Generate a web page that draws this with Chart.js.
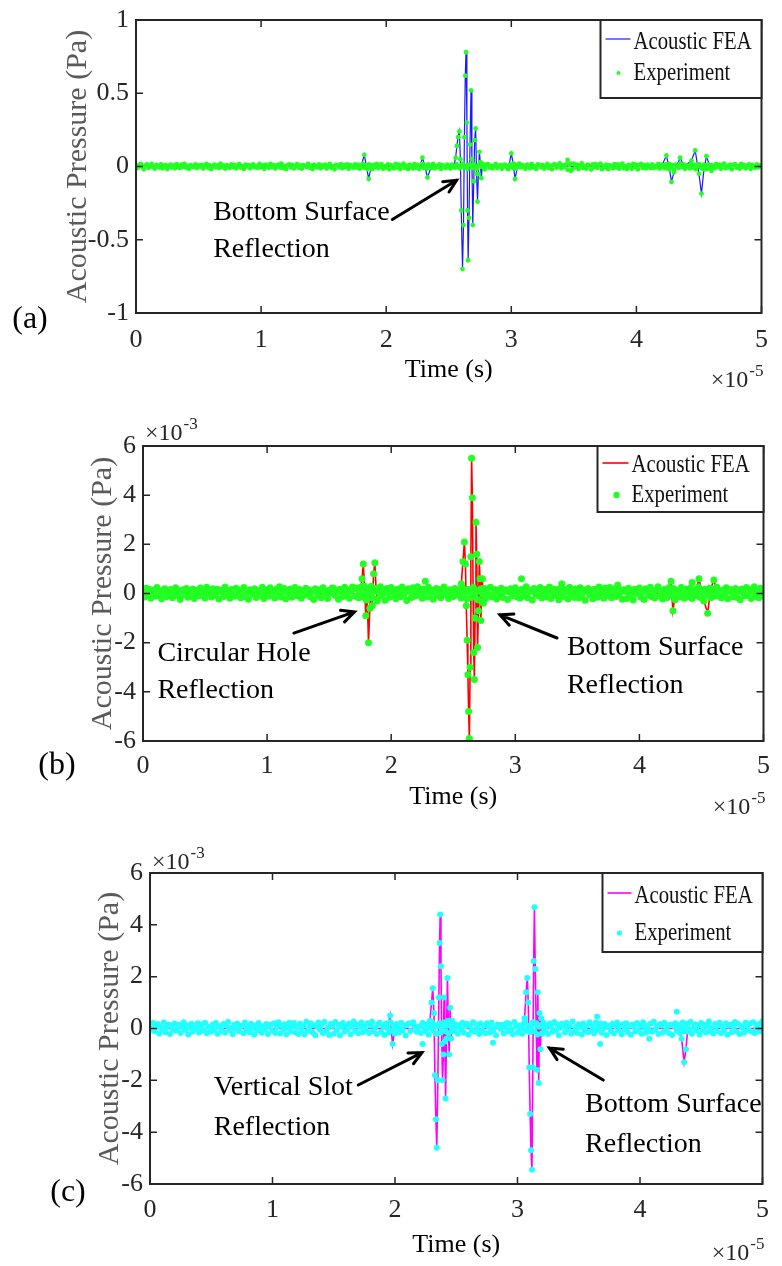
<!DOCTYPE html>
<html>
<head>
<meta charset="utf-8">
<title>Acoustic pressure: FEA vs experiment</title>
<script src="https://cdn.jsdelivr.net/npm/chart.js@4.4.1/dist/chart.umd.min.js"></script>
<style>
    html, body { margin: 0; padding: 0; background: #fff; }
    body { width: 782px; height: 1266px; position: relative; overflow: hidden; }
    .panel { position: absolute; left: 0; width: 782px; }
</style>
</head>
<body>
<div class="panel" style="top:0;height:400px"><canvas id="chartA"></canvas></div>
<div class="panel" style="top:400px;height:425px"><canvas id="chartB"></canvas></div>
<div class="panel" style="top:825px;height:441px"><canvas id="chartC"></canvas></div>
<script>
// Time axis is in units of 1e-5 s, panels (b) and (c) pressure in 1e-3 Pa
const NOISE_STEP = 0.0125;

// Panel (a): experiment baseline noise (Pa), one value per NOISE_STEP
const noiseA = [
    0.004, -0.011, 0.009, 0.017, -0.003, -0.019, 0.007, 0.014, -0.009, 0.001,
    0.018, -0.005, -0.015, 0.011, 0.003, -0.007, 0.015, -0.013, 0.005, 0.009,
    -0.017, 0.002, 0.013, -0.006, 0.008, -0.012, 0.016, 0.000, -0.010, 0.012,
    -0.002, 0.018, -0.008, 0.006, -0.016, 0.010, 0.001, -0.004, 0.015, -0.011,
    0.007, -0.001, 0.011, -0.014, 0.004, 0.017, -0.007, 0.009, -0.018, 0.003,
    0.013, -0.005, 0.008, -0.011, 0.019, -0.003, 0.005, -0.015, 0.010, 0.000,
    -0.009, 0.014, -0.002, 0.011, -0.013, 0.006, 0.016, -0.008, 0.003, -0.017,
    0.012, 0.000, 0.009, -0.012, 0.005, 0.015, -0.006, 0.002, -0.010, 0.018,
    -0.004, 0.008, -0.016, 0.013, 0.001, -0.009, 0.017, -0.003, 0.010, -0.014,
    0.005, 0.012, -0.007, 0.019, -0.011, 0.003, -0.018, 0.009, 0.014, -0.005,
    0.011, -0.013, 0.002, 0.016, -0.008, 0.007, -0.015, 0.010, 0.004, -0.002,
    0.018, -0.010, 0.006, -0.017, 0.013, 0.000, -0.006, 0.015, -0.012, 0.008,
    -0.001, 0.012, -0.014, 0.005, 0.017, -0.009, 0.003, -0.019, 0.011, 0.007,
    -0.005, 0.016, -0.012, 0.009, -0.003, 0.014, -0.016, 0.010, 0.002, -0.008,
    0.015, -0.007, 0.013, -0.015, 0.005, 0.018, -0.009, 0.002, -0.017, 0.014,
    0.008, -0.018, 0.011, -0.004, 0.017, -0.012, 0.006, 0.016, -0.016, 0.003,
    -0.008, 0.015, -0.019, 0.010, 0.001, -0.013, 0.018, -0.005, 0.012, -0.017,
    0.007, 0.019, -0.010, 0.004, -0.018, 0.013, -0.001, -0.014, 0.016, -0.007,
    0.011, -0.017, 0.005, 0.018, -0.011, 0.008, -0.015, 0.014, 0.002, -0.009,
    0.017, -0.013, 0.006, -0.004, 0.015, -0.017, 0.009, 0.003, -0.011, 0.013,
    0.006, -0.014, 0.012, 0.003, -0.008, 0.016, -0.002, -0.012, 0.010, 0.019,
    -0.006, 0.004, -0.017, 0.013, 0.008, -0.010, 0.015, 0.001, -0.015, 0.009,
    0.014, -0.003, 0.007, -0.019, 0.011, 0.016, -0.008, 0.005, -0.013, 0.002,
    0.017, -0.011, 0.004, 0.010, -0.016, 0.007, 0.013, -0.005, -0.018, 0.012,
    0.001, -0.009, 0.016, -0.014, 0.008, 0.019, -0.006, 0.011, -0.002, -0.016,
    0.013, 0.005, -0.012, 0.018, -0.007, 0.003, -0.017, 0.014, 0.009, -0.004,
    0.010, -0.015, 0.002, 0.017, -0.010, 0.006, -0.019, 0.012, 0.015, -0.008,
    0.004, 0.021, -0.013, 0.008, -0.003, 0.015, -0.022, 0.011, 0.020, -0.018,
    0.020, -0.006, 0.012, -0.017, 0.007, 0.021, -0.011, 0.004, -0.015, 0.013,
    0.006, -0.021, 0.014, -0.002, 0.016, -0.010, 0.008, 0.019, -0.018, 0.005,
    -0.005, 0.013, -0.018, 0.008, 0.003, -0.011, 0.016, -0.007, 0.014, -0.015,
    0.009, 0.019, -0.012, 0.002, -0.017, 0.011, 0.004, -0.016, 0.018, -0.004,
    0.013, -0.020, 0.007, 0.017, -0.009, 0.010, -0.013, 0.012, 0.000, -0.011,
    0.015, -0.010, 0.004, -0.006, 0.018, -0.014, 0.011, 0.005, -0.013, 0.016,
    -0.012, 0.018, -0.006, 0.009, -0.021, 0.012, 0.004, -0.010, 0.020, -0.003,
    0.014, -0.016, 0.008, 0.001, -0.013, 0.019, -0.008, 0.011, -0.019, 0.006,
    0.016, -0.004, -0.014, 0.012, 0.005, -0.018, 0.015, -0.007, 0.010, 0.002,
    -0.011, 0.017, -0.003, 0.013, -0.016, 0.008, 0.020, -0.012, 0.004, -0.006,
    0.012, -0.019, 0.009, 0.016, -0.008, 0.003, -0.015, 0.018, -0.002, 0.010,
    -0.013, 0.006, 0.014, -0.017, 0.011, 0.001, -0.009, 0.015, -0.005, 0.008,
    0.002
];

// Panel (a): a few larger experiment excursions (time, Pa)
const expTimeA = [3.45, 3.475];
const expValA = [0.045, -0.030];

// Panel (a): FEA trace (time, Pa)
const feaTimeA = [
    0, 1.80, 1.825, 1.84, 1.86, 1.88, 2.27, 2.29, 2.31, 2.33,
    2.36, 2.54, 2.555, 2.565, 2.575, 2.585, 2.593, 2.60, 2.61, 2.618,
    2.625, 2.632, 2.638, 2.645, 2.65, 2.655, 2.662, 2.67, 2.678, 2.685,
    2.692, 2.70, 2.707, 2.715, 2.722, 2.73, 2.737, 2.745, 2.752, 2.76,
    2.77, 2.79, 2.98, 3.0, 3.015, 3.03, 3.05, 4.20, 4.24, 4.265,
    4.28, 4.30, 4.35, 4.38, 4.44, 4.47, 4.50, 4.52, 4.54, 4.56,
    4.60, 4.64, 5.0
];
const feaValA = [
    0, 0, 0.08, 0.01, -0.085, 0, 0, 0.06, 0.0, -0.075,
    0, 0, 0.06, 0.14, 0.20, 0.24, 0.05, -0.30, -0.70, -0.40,
    0.20, 0.62, 0.78, 0.30, -0.30, -0.64, -0.35, 0.15, 0.52, 0.05,
    -0.40, -0.10, 0.18, 0.26, -0.05, -0.24, -0.05, 0.10, 0.03, -0.08,
    0.02, 0, 0, 0.09, 0.02, -0.085, 0, 0, 0.075, -0.02,
    -0.105, -0.04, 0.06, 0.0, 0.04, 0.11, -0.05, -0.185, -0.02, 0.07,
    -0.03, 0.01, 0
];

// Panel (b): experiment baseline noise (1e-3 Pa)
const noiseB = [
    0.09, -0.14, 0.21, -0.04, 0.17, -0.19, 0.03, 0.14, -0.11, 0.24,
    -0.07, 0.11, -0.21, 0.05, 0.19, -0.13, 0.08, -0.02, 0.16, -0.17,
    0.01, 0.23, -0.09, 0.12, -0.24, 0.06, 0.15, -0.05, 0.20, -0.15,
    0.10, -0.01, 0.18, -0.20, 0.04, 0.13, -0.10, 0.22, -0.06, 0.07,
    -0.18, 0.25, -0.03, 0.11, -0.14, 0.19, -0.08, 0.02, 0.17, -0.22,
    0.09, 0.14, -0.12, 0.26, -0.05, 0.06, -0.19, 0.16, 0.00, -0.11,
    0.21, -0.07, 0.13, -0.17, 0.08, 0.24, -0.13, 0.04, -0.23, 0.15,
    0.10, -0.04, 0.19, -0.16, 0.03, 0.12, -0.09, 0.25, -0.20, 0.05,
    0.14, -0.11, 0.23, -0.02, 0.09, -0.18, 0.17, -0.06, 0.27, -0.14,
    0.07, 0.20, -0.21, 0.11, -0.03, 0.18, -0.15, 0.05, 0.24, -0.09,
    0.02, 0.16, -0.19, 0.10, -0.07, 0.21, 0.08, 0.14, -0.13, 0.08,
    -0.24, 0.19, 0.04, -0.10, 0.15, -0.17, 0.23, -0.05, 0.09, -0.20,
    0.13, 0.01, 0.22, 0.20, -0.08, 0.11, -0.23, 0.17, 0.06, -0.12,
    0.25, -0.04, 0.14, -0.19, 0.08, 0.26, 0.19, -0.11, 0.22, -0.17,
    0.05, 0.28, -0.14, 0.11, -0.26, 0.18, -0.03, 0.23, -0.18, 0.09,
    0.15, -0.22, 0.07, 0.27, -0.09, 0.13, -0.27, 0.20, 0.01, -0.15,
    0.24, -0.08, 0.12, -0.21, 0.17, 0.03, -0.13, 0.26, -0.06, 0.10,
    -0.28, 0.19, 0.08, -0.16, 0.23, -0.11, 0.14, 0.27, -0.07, 0.11,
    -0.19, 0.18, 0.04, -0.14, 0.25, -0.10, 0.13, -0.23, 0.07, 0.20,
    -0.08, 0.16, -0.17, 0.10, 0.26, -0.05, 0.12, -0.20, 0.15, 0.03,
    -0.12, 0.20, -0.06, 0.15, 0.02, -0.18, 0.22, -0.09, 0.11, -0.21,
    0.17, 0.05, -0.15, 0.24, -0.12, 0.08, -0.25, 0.13, 0.19, -0.03,
    0.06, -0.20, 0.18, -0.07, 0.25, -0.14, 0.01, 0.16, -0.22, 0.12,
    -0.05, 0.21, -0.16, 0.09, 0.14, -0.24, 0.07, 0.19, -0.10, 0.04,
    0.23, -0.13, 0.10, -0.19, 0.16, 0.02, -0.11, 0.27, -0.17, 0.08,
    0.12, -0.26, 0.20, -0.01, 0.15, -0.09, 0.24, -0.18, 0.05, 0.17,
    -0.14, 0.09, 0.26, -0.20, 0.03, 0.18, -0.07, 0.13, -0.25, 0.21,
    0.00, -0.12, 0.16, 0.08, -0.22, 0.25, -0.04, 0.11, -0.16, 0.19,
    0.07, -0.18, 0.23, -0.10, 0.14, -0.27, 0.09, 0.20, -0.06, 0.12,
    -0.21, 0.17, 0.02, -0.15, 0.26, -0.08, 0.13, -0.19, 0.22, 0.04,
    -0.09, 0.24, -0.17, 0.06, 0.18, -0.12, 0.27, -0.03, 0.10, -0.23,
    0.15, 0.08, -0.20, 0.21, -0.05, 0.12, -0.26, 0.17, -0.01, 0.09,
    0.22, -0.15, 0.06, -0.24, 0.19, 0.10, -0.08, 0.25, -0.13, 0.03,
    -0.18, 0.14, 0.27, -0.11, 0.07, -0.22, 0.16, 0.01, -0.16, 0.23,
    0.11, -0.07, 0.20, -0.25, 0.13, 0.05, -0.14, 0.24, -0.02, -0.19,
    0.18, 0.09, -0.12, 0.22, -0.20, 0.06, 0.15, -0.09, 0.26, -0.15,
    0.04, -0.23, 0.17, 0.12, -0.06, 0.21, -0.17, 0.08, -0.11, 0.19,
    0.25, -0.10, 0.03, -0.18, 0.14, -0.04, 0.23, -0.21, 0.10, 0.16,
    -0.13, 0.07, 0.20, -0.16, 0.11, -0.25, 0.18, 0.02, -0.09, 0.24,
    -0.06, 0.15, -0.20, 0.09, 0.27, -0.12, 0.05, -0.17, 0.21, 0.01,
    -0.10
];

// Panel (b): larger experiment excursions (time, 1e-3 Pa)
const expTimeB = [2.275, 3.05, 3.375, 3.825, 4.425];
const expValB = [0.50, 0.60, 0.40, 0.35, 0.45];

// Panel (b): FEA trace (time, 1e-3 Pa)
const feaTimeB = [
    0, 1.75, 1.765, 1.775, 1.785, 1.795, 1.805, 1.817, 1.828, 1.838,
    1.848, 1.858, 1.868, 1.878, 1.888, 1.91, 2.55, 2.565, 2.578, 2.59,
    2.598, 2.605, 2.612, 2.618, 2.624, 2.63, 2.636, 2.642, 2.648, 2.654,
    2.66, 2.665, 2.67, 2.676, 2.683, 2.689, 2.696, 2.703, 2.71, 2.716,
    2.722, 2.728, 2.735, 2.742, 2.75, 2.765, 4.22, 4.255, 4.27, 4.29,
    4.45, 4.48, 4.52, 4.55, 4.575, 4.60, 4.63, 5.0
];
const feaValB = [
    0, 0, 0.6, 1.2, 0.3, -0.9, 0.2, -2.0, -0.6, 0.3,
    -0.5, 0.8, 1.25, 0.2, -0.3, 0, 0, 0.4, 1.3, 2.1,
    1.2, -0.5, -1.9, -3.3, -4.8, -5.9, -3.0, 1.5, 5.5, 3.9,
    0.2, -2.4, -3.5, -1.0, 2.9, 1.6, -2.2, -0.7, 1.3, 0.6,
    -1.1, -0.3, 0.6, -0.4, 0.2, 0, 0, 0.5, -0.7, 0,
    0, 0.6, -0.3, -0.8, 0.2, 0.55, 0, 0
];

// Panel (c): experiment baseline noise (1e-3 Pa)
const noiseC = [
    -0.07, 0.13, 0.21, -0.11, 0.04, 0.17, -0.19, 0.09, -0.02, 0.23,
    -0.14, 0.06, 0.15, -0.21, 0.11, -0.05, 0.19, -0.09, 0.02, 0.14,
    -0.17, 0.08, 0.24, -0.06, 0.12, -0.23, 0.03, 0.18, -0.12, 0.10,
    0.00, 0.20, -0.15, 0.05, 0.16, -0.08, 0.22, -0.18, 0.07, 0.01,
    -0.13, 0.15, -0.04, 0.21, -0.20, 0.09, 0.04, -0.10, 0.17, -0.16,
    0.11, 0.25, -0.07, 0.02, -0.22, 0.14, -0.01, 0.19, -0.11, 0.07,
    0.12, -0.18, 0.23, -0.05, 0.09, -0.14, 0.18, 0.00, -0.24, 0.13,
    -0.08, 0.21, 0.05, -0.16, 0.10, -0.03, 0.17, -0.21, 0.08, 0.15,
    -0.10, 0.20, -0.17, 0.06, 0.24, -0.19, 0.12, -0.04, 0.16, -0.22,
    0.03, 0.22, -0.12, 0.09, 0.21, -0.15, 0.07, -0.21, 0.18, -0.06,
    0.11, -0.23, 0.26, -0.09, 0.05, 0.19, -0.14, 0.13, -0.26, 0.08,
    0.23, -0.05, 0.15, -0.18, 0.25, -0.11, 0.04, -0.25, 0.17, 0.10,
    -0.20, 0.25, -0.08, 0.14, -0.26, 0.07, 0.21, -0.13, 0.11, -0.03,
    0.18, -0.22, 0.09, 0.27, -0.10, 0.15, -0.18, 0.06, 0.23, -0.14,
    0.08, -0.07, 0.20, -0.17, 0.12, 0.26, -0.11, 0.04, -0.21, 0.16,
    0.22, -0.13, 0.10, -0.25, 0.19, 0.02, -0.16, 0.24, -0.09, 0.13,
    -0.19, 0.17, 0.05, -0.14, 0.22, -0.08, 0.11, -0.27, 0.15, 0.20,
    -0.10, 0.18, 0.24, 0.07, -0.12, -0.13, 0.09, -0.17, 0.21, 0.04,
    -0.12, 0.16, -0.24, 0.11, 0.26, -0.07, 0.14, -0.20, 0.08, 0.19,
    -0.15, 0.05, 0.23, -0.11, 0.13, -0.18, 0.20, 0.02, -0.09, 0.17,
    0.06, -0.20, 0.14, -0.03, 0.22, -0.16, 0.09, 0.18, -0.24, 0.11,
    -0.06, 0.24, -0.13, 0.16, 0.01, -0.21, 0.19, -0.08, 0.12, -0.18,
    0.20, 0.07, -0.15, 0.23, -0.10, 0.04, -0.26, 0.15, 0.10, -0.02,
    0.14, -0.19, 0.05, 0.21, -0.12, 0.17, -0.05, -0.22, 0.25, 0.08,
    -0.16, 0.12, 0.02, -0.20, 0.18, 0.26, -0.09, 0.11, -0.14, 0.06,
    0.24, -0.11, 0.16, -0.23, 0.07, 0.13, -0.18, 0.22, -0.04, 0.10,
    -0.21, 0.19, 0.08, -0.13, 0.25, -0.07, 0.15, -0.26, 0.03, 0.18,
    0.09, -0.15, 0.21, -0.02, 0.12, -0.20, 0.27, -0.10, 0.06, -0.17,
    0.16, 0.04, -0.23, 0.19, -0.08, 0.11, -0.14, 0.24, -0.12, 0.07,
    -0.18, 0.22, -0.05, 0.13, 0.20, -0.16, 0.01, 0.17, -0.25, 0.12,
    0.05, -0.11, 0.18, -0.19, 0.09, 0.23, -0.07, 0.14, -0.22, 0.16,
    -0.03, 0.20, -0.14, 0.10, -0.24, 0.15, 0.07, -0.12, 0.21, -0.08,
    0.13, -0.20, 0.24, 0.02, -0.16, 0.11, -0.09, 0.19, -0.13, 0.26,
    -0.04, 0.08, -0.21, 0.17, 0.12, -0.15, 0.22, -0.06, 0.09, -0.18,
    0.15, -0.25, 0.10, 0.20, -0.09, 0.14, -0.17, 0.05, 0.23, -0.11,
    0.07, 0.18, -0.13, 0.25, -0.20, 0.03, 0.16, -0.08, 0.12, -0.23,
    0.21, -0.06, 0.14, -0.15, 0.09, 0.27, -0.12, 0.04, -0.19, 0.17,
    -0.10, 0.13, 0.22, -0.18, 0.06, -0.09, 0.20, -0.24, 0.11, 0.15,
    -0.14, 0.08, 0.25, -0.12, 0.18, -0.21, 0.10, 0.03, -0.16, 0.22,
    0.12, -0.07, 0.19, -0.13, 0.24, -0.17, 0.06, 0.16, -0.11, 0.20,
    0.28
];

// Panel (c): larger experiment excursions (time, 1e-3 Pa)
const expTimeC = [2.225, 2.8, 3.65, 3.675, 4.075, 4.3];
const expValC = [-0.60, -0.55, 0.45, -0.60, -0.40, 0.65];

// Panel (c): FEA trace (time, 1e-3 Pa)
const feaTimeC = [
    0, 1.94, 1.96, 1.98, 2.0, 2.27, 2.285, 2.298, 2.308, 2.318,
    2.326, 2.334, 2.341, 2.35, 2.358, 2.364, 2.369, 2.375, 2.382, 2.388,
    2.395, 2.40, 2.407, 2.413, 2.42, 2.428, 2.435, 2.442, 2.45, 2.458,
    2.466, 2.475, 2.49, 3.038, 3.058, 3.07, 3.08, 3.088, 3.096, 3.103,
    3.11, 3.118, 3.125, 3.132, 3.138, 3.145, 3.152, 3.159, 3.166, 3.173,
    3.18, 3.187, 3.194, 3.203, 3.218, 4.32, 4.34, 4.36, 4.375, 4.39,
    5.0
];
const feaValC = [
    0, 0, 0.5, -0.6, 0, 0, 0.3, 1.0, 1.55, 0.6,
    -1.8, -3.5, -4.6, -2.0, 1.2, 3.3, 4.4, 2.4, -0.6, -2.0,
    -1.0, 1.2, -0.5, -2.7, -0.4, 1.95, 0.3, -1.0, 0.8, -0.4,
    0.3, -0.1, 0, 0, 0.4, 1.4, 1.95, 1.0, -1.5, -3.3,
    -4.7, -5.45, -1.5, 2.6, 4.68, 2.3, 0.2, -1.6, 1.4, -2.1,
    0.6, -0.8, 0.4, -0.2, 0, 0, -0.4, -1.3, -0.8, 0,
    0
];

// Fonts
const SERIF = "'Liberation Serif', 'Times New Roman', serif";
const INK = "#262626";

// Build point lists from the arrays
function pairPoints(times, values) {
    return times.map((t, i) => ({ x: t, y: values[i] }));
}

function experimentPoints(p) {
    const base = p.noise.map((v, i) => ({ x: i * NOISE_STEP, y: v }));
    return base
        .concat(pairPoints(p.extraTimes, p.extraValues))
        .concat(pairPoints(p.times, p.values));
}

// Draw a line of text squeezed horizontally (legend entries look condensed)
function condensedText(ctx, text, x, y, squeeze) {
    ctx.save();
    ctx.translate(x, y);
    ctx.scale(squeeze, 1);
    ctx.fillText(text, 0, 0);
    ctx.restore();
}

// Frame, inward ticks, legend, labels and annotation arrows
const decorPlugin = {
    id: "decor",
    afterDraw(chart, args, o) {
        const { ctx, chartArea: a } = chart;
        const xs = chart.scales.x;
        const ys = chart.scales.y;
        ctx.save();

        // inward tick marks on all four sides
        ctx.strokeStyle = INK;
        ctx.lineWidth = 1.5;
        ctx.beginPath();
        xs.ticks.forEach(t => {
            const px = xs.getPixelForValue(t.value);
            ctx.moveTo(px, a.bottom);
            ctx.lineTo(px, a.bottom - 7);
            ctx.moveTo(px, a.top);
            ctx.lineTo(px, a.top + 7);
        });
        ys.ticks.forEach(t => {
            const py = ys.getPixelForValue(t.value);
            ctx.moveTo(a.left, py);
            ctx.lineTo(a.left + 7, py);
            ctx.moveTo(a.right, py);
            ctx.lineTo(a.right - 7, py);
        });
        ctx.stroke();

        // axes box
        ctx.lineWidth = 2;
        ctx.strokeRect(a.left, a.top, a.right - a.left, a.bottom - a.top);

        // legend
        const lg = o.legend;
        const bx = a.right - lg.w;
        const by = a.top;
        const exp = chart.data.datasets[0];
        const fea = chart.data.datasets[1];
        ctx.fillStyle = "#fff";
        ctx.fillRect(bx, by, lg.w, lg.h);
        ctx.strokeStyle = INK;
        ctx.lineWidth = 2;
        ctx.strokeRect(bx, by, lg.w, lg.h);
        ctx.strokeStyle = fea.borderColor;
        ctx.lineWidth = fea.borderWidth;
        ctx.beginPath();
        ctx.moveTo(bx + 5, by + lg.lineY);
        ctx.lineTo(bx + lg.textX - 3, by + lg.lineY);
        ctx.stroke();
        ctx.fillStyle = exp.pointBackgroundColor;
        ctx.beginPath();
        ctx.arc(bx + lg.dotX, by + lg.row2, lg.dotR, 0, Math.PI * 2);
        ctx.fill();
        ctx.fillStyle = "#111";
        ctx.font = `25px ${SERIF}`;
        ctx.textAlign = "left";
        ctx.textBaseline = "middle";
        condensedText(ctx, fea.label, bx + lg.textX, by + lg.row1, 0.83);
        condensedText(ctx, exp.label, bx + lg.textX, by + lg.row2, 0.83);

        // text notes
        ctx.fillStyle = "#000";
        ctx.font = `28px ${SERIF}`;
        ctx.textBaseline = "alphabetic";
        o.notes.forEach(n => {
            const px = xs.getPixelForValue(n.x);
            const py = ys.getPixelForValue(n.y);
            n.lines.forEach((s, i) => ctx.fillText(s, px, py + i * n.gap));
        });

        // arrows
        ctx.strokeStyle = "#000";
        ctx.lineWidth = 3;
        ctx.lineCap = "round";
        o.arrows.forEach(ar => {
            const x0 = xs.getPixelForValue(ar.from[0]);
            const y0 = ys.getPixelForValue(ar.from[1]);
            const x1 = xs.getPixelForValue(ar.to[0]);
            const y1 = ys.getPixelForValue(ar.to[1]);
            const ang = Math.atan2(y1 - y0, x1 - x0);
            const head = 14;
            ctx.beginPath();
            ctx.moveTo(x0, y0);
            ctx.lineTo(x1, y1);
            ctx.moveTo(x1 - head * Math.cos(ang - 0.45), y1 - head * Math.sin(ang - 0.45));
            ctx.lineTo(x1, y1);
            ctx.lineTo(x1 - head * Math.cos(ang + 0.45), y1 - head * Math.sin(ang + 0.45));
            ctx.stroke();
        });

        // exponent labels
        ctx.fillStyle = INK;
        ctx.textAlign = "left";
        const drawExp = (power, x, y) => {
            ctx.font = `24px ${SERIF}`;
            ctx.fillText("\u00d710", x, y);
            const w = ctx.measureText("\u00d710").width;
            ctx.font = `17px ${SERIF}`;
            ctx.fillText(power, x + w + 1, y - 11);
        };
        ctx.font = `24px ${SERIF}`;
        const baseW = ctx.measureText("\u00d710").width;
        ctx.font = `17px ${SERIF}`;
        const supW = ctx.measureText("-5").width;
        drawExp("-5", a.right + 2 - baseW - supW - 1, a.bottom + o.xExpDrop);
        if (o.yExp) {
            drawExp(o.yExp, a.left + 2, a.top - o.yExpLift);
        }

        // panel letter
        ctx.fillStyle = "#000";
        ctx.font = `32px ${SERIF}`;
        ctx.textAlign = "center";
        ctx.textBaseline = "middle";
        ctx.fillText(o.tag.text, o.tag.x, o.tag.y);

        ctx.restore();
    }
};

// Create one panel
function makePanel(id, p) {
    const ctx = document.getElementById(id).getContext("2d");
    return new Chart(ctx, {
        type: "scatter",
        data: {
            datasets: [{
                label: "Experiment",
                data: experimentPoints(p),
                pointRadius: p.dotR,
                pointHoverRadius: p.dotR,
                pointBackgroundColor: p.dotColor,
                pointBorderWidth: 0,
                order: 0
            }, {
                label: "Acoustic FEA",
                data: pairPoints(p.times, p.values),
                showLine: true,
                tension: 0,
                pointRadius: 0,
                borderColor: p.lineColor,
                borderWidth: p.lineWidth,
                order: 1
            }]
        },
        options: {
            responsive: true,
            maintainAspectRatio: false,
            devicePixelRatio: 1,
            animation: false,
            events: [],
            layout: { padding: p.padding },
            plugins: {
                legend: { display: false },
                tooltip: { enabled: false },
                decor: p.decor
            },
            scales: {
                x: {
                    type: "linear",
                    min: 0,
                    max: 5,
                    grid: { display: false, drawTicks: false },
                    border: { display: false },
                    ticks: {
                        stepSize: 1,
                        padding: p.xTickPad,
                        color: INK,
                        font: { family: SERIF, size: 26, lineHeight: 1 }
                    },
                    title: {
                        display: true,
                        text: "Time (s)",
                        color: "#000",
                        padding: 0,
                        font: { family: SERIF, size: 26, lineHeight: 1.2 }
                    },
                    afterFit: s => { s.height = p.xHeight; }
                },
                y: {
                    min: p.yMin,
                    max: p.yMax,
                    grid: { display: false, drawTicks: false },
                    border: { display: false },
                    ticks: {
                        stepSize: p.yStep,
                        padding: 7,
                        color: INK,
                        font: { family: SERIF, size: 26, lineHeight: 1 },
                        callback: v => String(v)
                    },
                    title: {
                        display: true,
                        text: "Acoustic Pressure (Pa)",
                        color: "#5a5a5a",
                        padding: { top: p.yTitlePad, bottom: 0 },
                        font: { family: SERIF, size: 30, lineHeight: 1 }
                    },
                    afterFit: s => { s.width = p.yWidth; }
                }
            }
        },
        plugins: [decorPlugin]
    });
}

document.addEventListener("DOMContentLoaded", () => {
    // (a) Bottom surface reflection only
    makePanel("chartA", {
        noise: noiseA, extraTimes: expTimeA, extraValues: expValA,
        times: feaTimeA, values: feaValA,
        dotR: 2.4, dotColor: "#22ff22", lineColor: "#1a1aff", lineWidth: 1.2,
        yMin: -1, yMax: 1, yStep: 0.5,
        yWidth: 136, yTitlePad: 63, xHeight: 72.6, xTickPad: 14,
        padding: { left: 0, top: 15, right: 14, bottom: 14.4 },
        decor: {
            legend: { w: 161, h: 78, lineY: 19, row1: 22, row2: 53, textX: 33, dotX: 18, dotR: 2 },
            notes: [{ x: 0.617, y: -0.362, lines: ["Bottom Surface", "Reflection"], gap: 37 }],
            arrows: [{ from: [2.049, -0.362], to: [2.563, -0.094] }],
            xExpDrop: 74,
            tag: { text: "(a)", x: 30, y: 320 }
        }
    });

    // (b) Circular hole
    makePanel("chartB", {
        noise: noiseB, extraTimes: expTimeB, extraValues: expValB,
        times: feaTimeB, values: feaValB,
        dotR: 3.5, dotColor: "#22ff22", lineColor: "#ff0000", lineWidth: 1.6,
        yMin: -6, yMax: 6, yStep: 2,
        yWidth: 143, yTitlePad: 88, xHeight: 71.6, xTickPad: 12,
        padding: { left: 0, top: 46, right: 14, bottom: 12.4 },
        decor: {
            legend: { w: 166, h: 66, lineY: 17, row1: 19, row2: 49, textX: 34, dotX: 19, dotR: 3.2 },
            notes: [
                { x: 0.116, y: -2.75, lines: ["Circular Hole", "Reflection"], gap: 37 },
                { x: 3.416, y: -2.5, lines: ["Bottom Surface", "Reflection"], gap: 38 }
            ],
            arrows: [
                { from: [1.216, -1.61], to: [1.704, -0.75] },
                { from: [3.336, -1.81], to: [2.876, -0.87] }
            ],
            xExpDrop: 73,
            yExp: "-3",
            yExpLift: 6,
            tag: { text: "(b)", x: 57, y: 366 }
        }
    });

    // (c) Vertical slot
    makePanel("chartC", {
        noise: noiseC, extraTimes: expTimeC, extraValues: expValC,
        times: feaTimeC, values: feaValC,
        dotR: 3, dotColor: "#22ffff", lineColor: "#ff00ff", lineWidth: 1.6,
        yMin: -6, yMax: 6, yStep: 2,
        yWidth: 150, yTitlePad: 95, xHeight: 76.6, xTickPad: 13,
        padding: { left: 0, top: 48, right: 7, bottom: 5.4 },
        decor: {
            legend: { w: 160, h: 79, lineY: 20, row1: 23, row2: 60, textX: 32, dotX: 17, dotR: 2.6 },
            notes: [
                { x: 0.52, y: -2.57, lines: ["Vertical Slot", "Reflection"], gap: 40 },
                { x: 3.552, y: -3.22, lines: ["Bottom Surface", "Reflection"], gap: 40 }
            ],
            arrows: [
                { from: [1.70, -2.18], to: [2.22, -0.93] },
                { from: [3.70, -1.99], to: [3.26, -0.75] }
            ],
            xExpDrop: 76,
            yExp: "-3",
            yExpLift: 4,
            tag: { text: "(c)", x: 68, y: 368 }
        }
    });
});
</script>
</body>
</html>
